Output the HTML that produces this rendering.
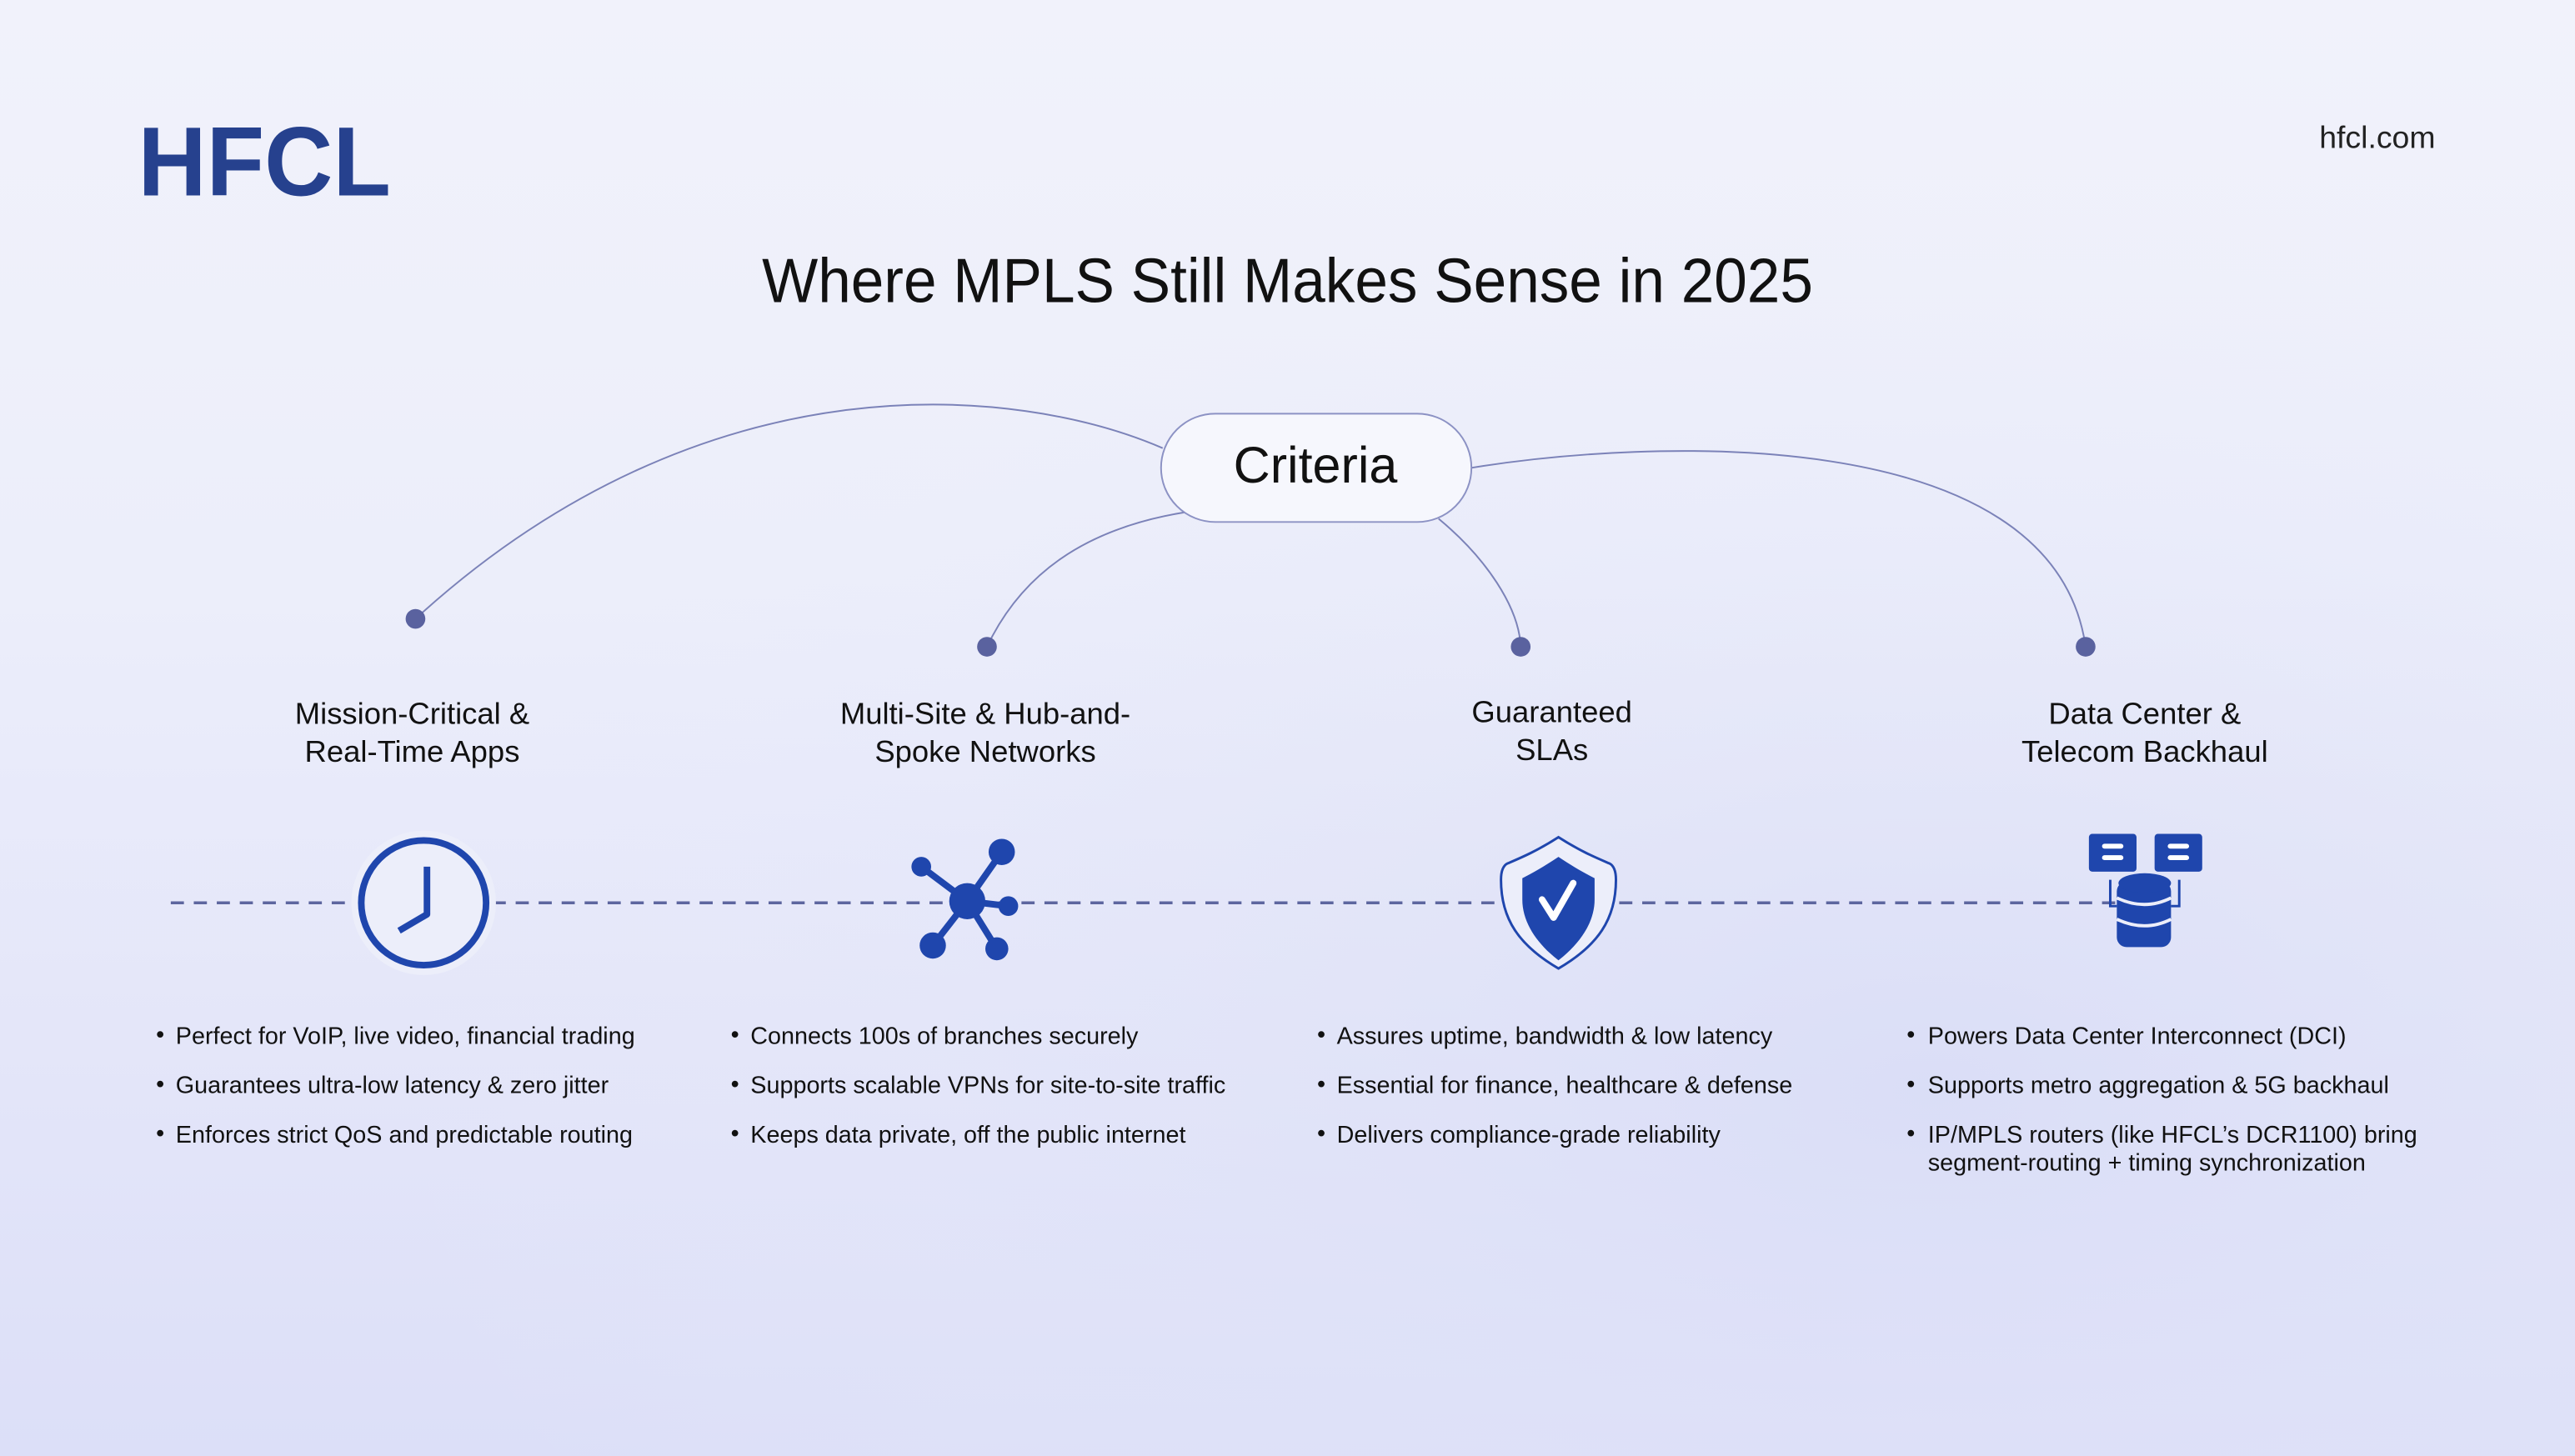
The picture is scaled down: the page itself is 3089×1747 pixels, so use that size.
<!DOCTYPE html>
<html><head><meta charset="utf-8"><style>
html,body{margin:0;padding:0;}
body{width:3089px;height:1747px;overflow:hidden;background:linear-gradient(180deg,#f1f2fb 0%,#eceefa 40%,#e3e5f9 75%,#dcdff8 100%);}
svg{display:block;font-family:"Liberation Sans",sans-serif;}
</style></head><body>
<svg width="3089" height="1747" viewBox="0 0 1568 887" preserveAspectRatio="none">
<defs>
<radialGradient id="g1" cx="0.75" cy="0.75" r="0.6"><stop offset="0" stop-color="#d8dcf6" stop-opacity="0.8"/><stop offset="1" stop-color="#e8eafa" stop-opacity="0"/></radialGradient>
</defs>
<rect x="0" y="0" width="1568" height="887" fill="url(#g1)"/>
<text x="84" y="119" font-size="60" font-weight="bold" fill="#26418e" textLength="154" lengthAdjust="spacingAndGlyphs">HFCL</text>
<text x="1483" y="90" font-size="19" fill="#222" text-anchor="end">hfcl.com</text>
<text x="464" y="184" font-size="38" fill="#111" textLength="640" lengthAdjust="spacingAndGlyphs">Where MPLS Still Makes Sense in 2025</text>
<g fill="none" stroke="#7b82b8" stroke-width="1">
<path d="M708,273 C620,235 430,215 253,377"/>
<path d="M722,312 C660,322 622,350 601,394"/>
<path d="M876,316 C905,340 925,370 926,394"/>
<path d="M896,285 C1000,268 1250,255 1270,394"/>
</g>
<rect x="707" y="252" width="189" height="66" rx="33" fill="#f6f7fd" stroke="#8c92c4" stroke-width="1"/>
<text x="801" y="294" font-size="31" fill="#111" text-anchor="middle">Criteria</text>
<g fill="#5a629f"><circle cx="253" cy="377" r="6"/><circle cx="601" cy="394" r="6"/><circle cx="926" cy="394" r="6"/><circle cx="1270" cy="394" r="6"/></g>
<g font-size="18.5" fill="#111" text-anchor="middle">
<text x="251" y="441">Mission-Critical &amp;</text><text x="251" y="464">Real-Time Apps</text>
<text x="600" y="441">Multi-Site &amp; Hub-and-</text><text x="600" y="464">Spoke Networks</text>
<text x="945" y="440">Guaranteed</text><text x="945" y="463">SLAs</text>
<text x="1306" y="441">Data Center &amp;</text><text x="1306" y="464">Telecom Backhaul</text>
</g>
<line x1="104" y1="550" x2="1290" y2="550" stroke="#5d669f" stroke-width="1.8" stroke-dasharray="8,6"/>
<!-- clock -->
<circle cx="258" cy="550" r="44" fill="#eceefa" stroke="none"/>
<circle cx="258" cy="550" r="38" fill="none" stroke="#1f46ad" stroke-width="4"/>
<polyline points="260,528 260,557 243,567" fill="none" stroke="#1f46ad" stroke-width="4" stroke-linejoin="round"/>
<!-- network -->
<g stroke="#1f46ad" stroke-width="4"><line x1="589" y1="549" x2="610" y2="519"/><line x1="589" y1="549" x2="561" y2="528"/><line x1="589" y1="549" x2="614" y2="552"/><line x1="589" y1="549" x2="568" y2="576"/><line x1="589" y1="549" x2="607" y2="578"/></g>
<g fill="#1f46ad"><circle cx="589" cy="549" r="11"/><circle cx="610" cy="519" r="8"/><circle cx="561" cy="528" r="6"/><circle cx="614" cy="552" r="6"/><circle cx="568" cy="576" r="8"/><circle cx="607" cy="578" r="7"/></g>
<!-- shield -->
<path d="M949,510 C935,519 925,523 918,526 Q914,528 914,536 C914,560 925,576 949,590 C973,576 984,560 984,536 Q984,528 980,526 C973,523 963,519 949,510 Z" fill="#eceefa" stroke="#1f46ad" stroke-width="1.5"/>
<path d="M949,522 C940,528 933,532 927,535 L927,548 C927,562 936,575 949,585 C962,575 971,562 971,548 L971,535 C965,532 958,528 949,522 Z" fill="#1f46ad"/>
<polyline points="939,548 946,559 958,538" fill="none" stroke="#fff" stroke-width="4" stroke-linecap="round" stroke-linejoin="round"/>
<!-- db -->
<g fill="#1f46ad">
<rect x="1272" y="508" width="29" height="23" rx="2"/><rect x="1312" y="508" width="29" height="23" rx="2"/>
<rect x="1289" y="537" width="33" height="40" rx="6"/>
<ellipse cx="1306" cy="538" rx="16" ry="6"/>
</g>
<g fill="#fff"><rect x="1280" y="514" width="13" height="3" rx="1.5"/><rect x="1280" y="521" width="13" height="3" rx="1.5"/><rect x="1320" y="514" width="13" height="3" rx="1.5"/><rect x="1320" y="521" width="13" height="3" rx="1.5"/></g>
<g fill="none" stroke="#eceefa" stroke-width="2"><path d="M1289,547 Q1306,555 1322,547"/><path d="M1289,560 Q1306,568 1322,560"/></g>
<g fill="none" stroke="#1f46ad" stroke-width="1.5"><polyline points="1285,536 1285,552 1289,552"/><polyline points="1327,536 1327,552 1322,552"/></g>
<!-- bullets -->
<g font-size="14.6" fill="#111">
<g transform="translate(95,0)"><text x="0" y="635">•</text><text x="0" y="665">•</text><text x="0" y="695">•</text></g>
<text x="107" y="636">Perfect for VoIP, live video, financial trading</text>
<text x="107" y="666">Guarantees ultra-low latency &amp; zero jitter</text>
<text x="107" y="696">Enforces strict QoS and predictable routing</text>
<g transform="translate(445,0)"><text x="0" y="635">•</text><text x="0" y="665">•</text><text x="0" y="695">•</text></g>
<text x="457" y="636">Connects 100s of branches securely</text>
<text x="457" y="666">Supports scalable VPNs for site-to-site traffic</text>
<text x="457" y="696">Keeps data private, off the public internet</text>
<g transform="translate(802,0)"><text x="0" y="635">•</text><text x="0" y="665">•</text><text x="0" y="695">•</text></g>
<text x="814" y="636">Assures uptime, bandwidth &amp; low latency</text>
<text x="814" y="666">Essential for finance, healthcare &amp; defense</text>
<text x="814" y="696">Delivers compliance-grade reliability</text>
<g transform="translate(1161,0)"><text x="0" y="635">•</text><text x="0" y="665">•</text><text x="0" y="695">•</text></g>
<text x="1174" y="636">Powers Data Center Interconnect (DCI)</text>
<text x="1174" y="666">Supports metro aggregation &amp; 5G backhaul</text>
<text x="1174" y="696">IP/MPLS routers (like HFCL’s DCR1100) bring</text>
<text x="1174" y="713">segment-routing + timing synchronization</text>
</g>
</svg>
</body></html>
